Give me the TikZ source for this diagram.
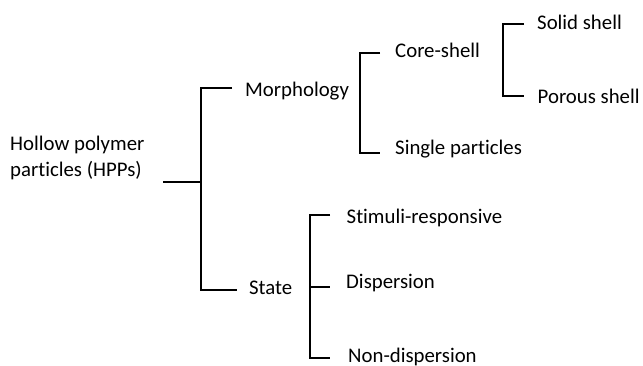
\documentclass[tikz,border=0pt]{standalone}
\usepackage{fontspec}
\setmainfont{Carlito}[Ligatures={NoCommon}]
\usetikzlibrary{positioning}

\tikzset{
lbl/.style={anchor=base west,inner sep=0pt,font=\fontsize{20.8}{26.3}\selectfont,align=left},
br/.style={line width=2pt}
}

\begin{document}
\begin{tikzpicture}[x=1pt,y=-1pt]
\useasboundingbox (0,0) rectangle (643,365);

% labels
\node[lbl] (hpp) at (10,176.7) {Hollow polymer\\particles (HPPs)};
\node[lbl] (morph) at (245,96.7) {Morphology};
\node[lbl] (state) at (249,294) {State};
\node[lbl] (core) at (395,57.7) {Core-shell};
\node[lbl] (single) at (395,154) {Single particles};
\node[lbl] (solid) at (537,29) {Solid shell};
\node[lbl] (porous) at (537.5,103.3) {Porous shell};
\node[lbl] (stim) at (346.5,223.3) {Stimuli-responsive};
\node[lbl] (disp) at (346,288.3) {Dispersion};
\node[lbl] (nondisp) at (348,362.5) {Non-dispersion};

% bracket points
\coordinate (r0) at (163,182);
\coordinate (r1) at (201,182);
\coordinate (m0) at (201,88);
\coordinate (m1) at (232,88);
\coordinate (s0) at (201,290);
\coordinate (s1) at (237,290);

\coordinate (c0) at (360,53);
\coordinate (c1) at (380,53);
\coordinate (p0) at (360,153);
\coordinate (p1) at (380,153);

\coordinate (d0) at (503,24);
\coordinate (d1) at (524,24);
\coordinate (e0) at (503,96);
\coordinate (e1) at (524,96);

\coordinate (t0) at (310,215);
\coordinate (t1) at (330,215);
\coordinate (u0) at (310,287);
\coordinate (u1) at (330,287);
\coordinate (v0) at (310,358);
\coordinate (v1) at (330,358);

\draw[br] (r0)--(r1);
\draw[br] (m1)--(m0)--(s0)--(s1);
\draw[br] (c1)--(c0)--(p0)--(p1);
\draw[br] (d1)--(d0)--(e0)--(e1);
\draw[br] (t1)--(t0)--(v0)--(v1) (u0)--(u1);
\end{tikzpicture}
\end{document}
